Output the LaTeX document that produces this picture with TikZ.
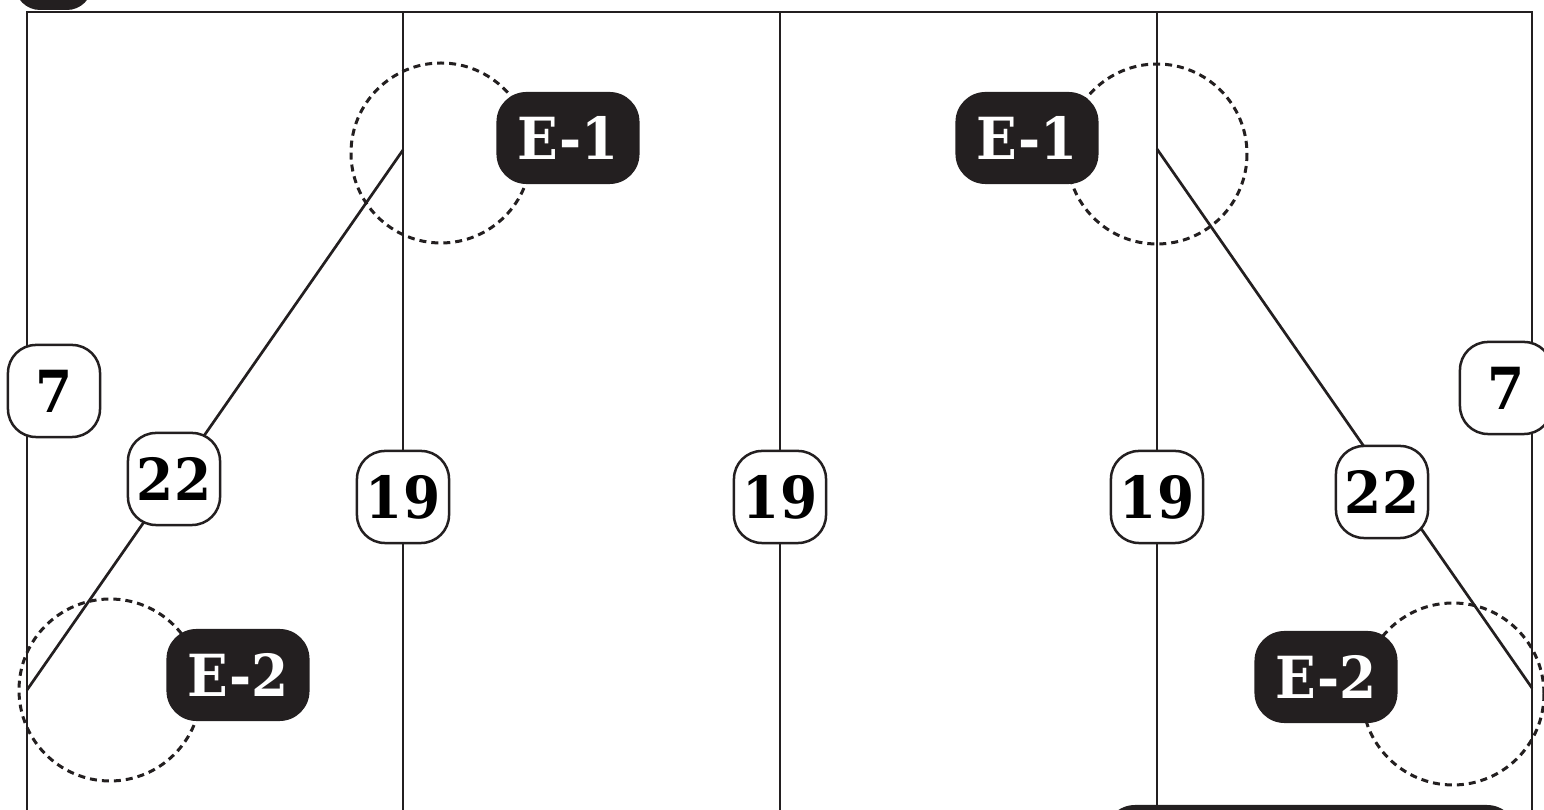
\documentclass[tikz,border=0pt]{standalone}
\usepackage{fontspec}
\newfontfamily\lblfont[FakeStretch=0.92]{DejaVu Serif}
\definecolor{ink}{HTML}{231F20}
\begin{document}
\begin{tikzpicture}[x=0.01cm,y=-0.01cm,
  frame/.style={draw=ink,line width=0.027cm},
  ring/.style={draw=ink,line width=0.03cm,dash pattern=on 0.07cm off 0.05cm},
  numbox/.style={draw=ink,line width=0.025cm,fill=white,rounded corners=0.28cm,
     minimum width=0.92cm,minimum height=0.92cm,inner sep=0pt,
     font=\lblfont\bfseries\fontsize{16.5}{18}\selectfont,text=black},
  ebox/.style={fill=ink,rounded corners=0.3cm,
     minimum width=1.43cm,minimum height=0.92cm,inner sep=0pt,
     font=\lblfont\bfseries\fontsize{16.5}{18}\selectfont,text=white},
  blob/.style={fill=ink,draw=none}]
\useasboundingbox (0,0) rectangle (1544,810);
% corner coordinates of the frame
\coordinate (bl) at (27,810);
\coordinate (tl) at (27,12);
\coordinate (tr) at (1532,12);
\coordinate (br) at (1532,810);
\coordinate (t1) at (403,12);  \coordinate (b1) at (403,810);
\coordinate (t2) at (780,12);  \coordinate (b2) at (780,810);
\coordinate (t3) at (1157,12); \coordinate (b3) at (1157,810);
% diagonal end points
\coordinate (dla) at (403,150); \coordinate (dlb) at (27,690);
\coordinate (dra) at (1157,149); \coordinate (drb) at (1532,688);
% frame and verticals
\draw[frame] (bl) -- (tl) -- (tr) -- (br);
\draw[frame] (t1) -- (b1);
\draw[frame] (t2) -- (b2);
\draw[frame] (t3) -- (b3);
% diagonals
\draw[frame] (dla) -- (dlb);
\draw[frame] (dra) -- (drb);
% dashed circles
\draw[ring] (441,153) circle[radius=90];
\draw[ring] (1157,154) circle[radius=90];
\draw[ring] (110,690) circle[radius=91];
\draw[ring] (1453,694) circle[radius=91];
% partial shapes at the edges
\fill[blob,rounded corners=0.25cm] (15,-60) rectangle (92,10);
\fill[blob,rounded corners=0.3cm] (1105,805) rectangle (1517,880);
% number boxes
\node[numbox] (s7l) at (54,391) {7};
\node[numbox] (s7r) at (1506,388) {7};
\node[numbox] (s22l) at (174,479) {22};
\node[numbox] (s22r) at (1382,492) {22};
\node[numbox] (s19a) at (403,497) {19};
\node[numbox] (s19b) at (780,497) {19};
\node[numbox] (s19c) at (1157,497) {19};
% E labels
\node[ebox] (e1l) at (568,138) {E-1};
\node[ebox] (e1r) at (1027,138) {E-1};
\node[ebox] (e2l) at (238,675) {E-2};
\node[ebox] (e2r) at (1326,677) {E-2};
\end{tikzpicture}
\end{document}
